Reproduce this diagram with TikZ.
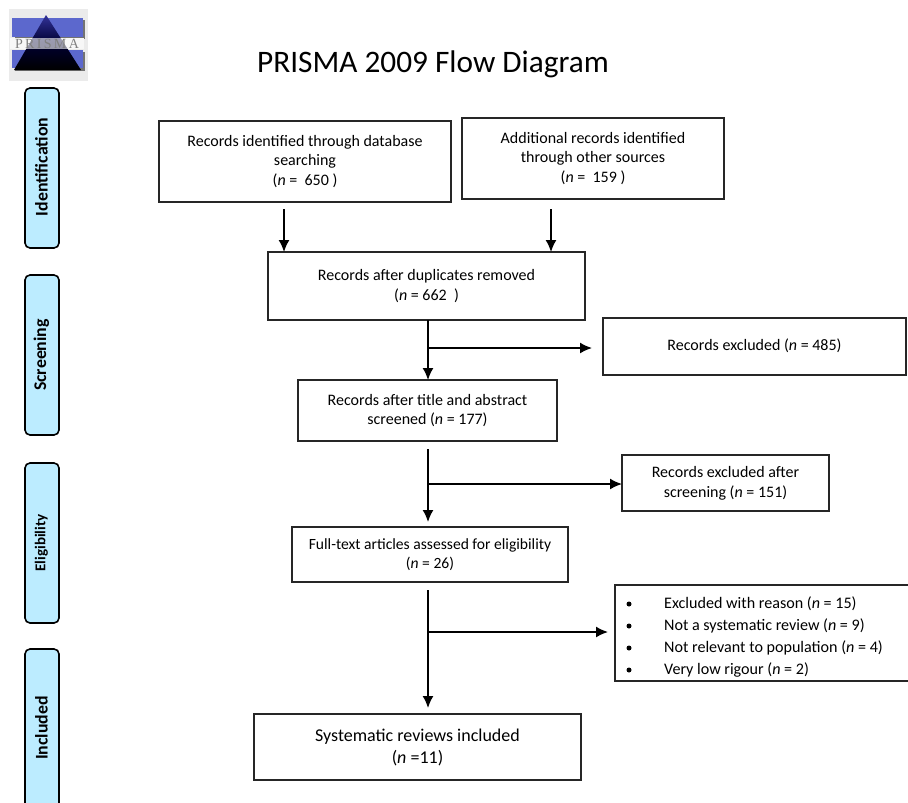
\documentclass[tikz,border=0pt]{standalone}
\usepackage{fontspec}
\setmainfont{Carlito}
\newfontfamily\logofont{Liberation Serif}
\usetikzlibrary{arrows.meta}
\definecolor{logoblue}{RGB}{92,104,205}
\definecolor{sideblue}{RGB}{188,236,255}
\tikzset{
 flowbox/.style={draw=black!85,line width=1.6pt,fill=white,align=center,inner sep=0pt,outer sep=0pt,font=\fontsize{16}{19.8}\selectfont,anchor=north west},
 sidebox/.style={draw=black,line width=1.6pt,fill=sideblue,rounded corners=5pt,minimum width=34pt,inner sep=0pt,outer sep=0pt,anchor=north west},
 sidelabel/.style={rotate=90,font=\bfseries\fontsize{17.8}{20}\selectfont},
 flowarrow/.style={draw=black,line width=1.6pt,-{Latex[length=12pt,width=11pt]}}
}
\newcommand{\nn}{\textit{n}}
\begin{document}
\begin{tikzpicture}[x=1pt,y=-1pt]
\useasboundingbox (0,0) rectangle (908,803);
\clip (0,0) rectangle (908,803);
% logo
\fill[black!8] (9,9) rectangle (88,81);
\fill[black!55] (15,20) rectangle (85,39);
\fill[black!55] (15,52) rectangle (85,71);
\fill[logoblue] (12,18) rectangle (83,37);
\fill[logoblue] (12,50) rectangle (83,68);
\fill[white!92!black] (10,38) rectangle (84,49);
\shade[top color=black!50!blue!80!white,bottom color=black,middle color=black!80!blue] (46,15) -- (81,70) -- (14,70) -- cycle;
\fill[white,opacity=.6] (10,38) rectangle (84,49);
\node[font=\logofont\fontsize{14}{14}\selectfont,text=black!50] (logo) at (47,44) {P\,R\,I\,S\,M\,A};
% title
\node[font=\fontsize{31.3}{34}\selectfont] (title) at (433,64) {PRISMA 2009 Flow Diagram};
% side labels
\node[sidebox,minimum height=160pt] (sid) at (25,88) {};
\node[sidelabel] (lid) at (41.5,167) {Identification};
\node[sidebox,minimum height=160pt] (sis) at (25,275) {};
\node[sidelabel] (lis) at (41.5,355) {Screening};
\node[sidebox,minimum height=160pt] (sie) at (25,463) {};
\node[sidelabel,font=\bfseries\fontsize{15}{17}\selectfont] (lie) at (41.5,543) {Eligibility};
\node[sidebox,minimum height=170pt] (sii) at (25,649) {};
\node[sidelabel] (lii) at (41.5,728) {Included};
% boxes
\node[flowbox,minimum width=292pt,minimum height=81pt] (b1) at (159,121) {Records identified through database\\searching\\(\nn{} =\ \ 650 )};
\node[flowbox,minimum width=262pt,minimum height=81pt] (b2) at (462,118) {Additional records identified\\through other sources\\(\nn{} =\ \ 159 )};
\node[flowbox,minimum width=317pt,minimum height=68pt] (b3) at (268,252) {Records after duplicates removed\\(\nn{} = 662\ \ )};
\node[flowbox,minimum width=303pt,minimum height=57pt] (x1) at (603,318) {\raisebox{4pt}{Records excluded (\nn{} = 485)}};
\node[flowbox,minimum width=259pt,minimum height=61pt] (b4) at (298,380) {Records after title and abstract\\screened (\nn{} = 177)};
\node[flowbox,minimum width=207pt,minimum height=56pt] (x2) at (622,455) {Records excluded after\\screening (\nn{} = 151)};
\node[flowbox,minimum width=276pt,minimum height=55pt,font=\fontsize{15.6}{19}\selectfont] (b5) at (292,527) {Full-text articles assessed for eligibility\\(\nn{} = 26)};
\node[flowbox,minimum width=296pt,minimum height=96pt] (x3) at (615,585) {};
\node[flowbox,minimum width=327pt,minimum height=66pt,font=\fontsize{18}{22}\selectfont] (b6) at (254,714) {Systematic reviews included\\(\nn{} =11)};
% list
\foreach \yy/\tx [count=\i] in {604/{Excluded with reason (\nn{} = 15)},626/{Not a systematic review (\nn{} = 9)},648/{Not relevant to population (\nn{} = 4)},670/{Very low rigour (\nn{} = 2)}}{
 \node[circle,fill=black,inner sep=0pt,minimum size=5pt] (dot\i) at (629,\yy) {};
 \node[anchor=west,inner sep=0pt,font=\fontsize{16.1}{18}\selectfont] (item\i) at (664,\yy) {\tx};
}
% connectors
\coordinate (s1) at (284,209);
\coordinate (s2) at (551,209);
\draw[flowarrow] (s1) -- (s1 |- b3.north);
\draw[flowarrow] (s2) -- (s2 |- b3.north);
\coordinate (s3) at (428,320);
\draw[flowarrow] (s3) -- (s3 |- b4.north);
\coordinate (j3) at (428,348); \coordinate (t3) at (592,348);
\draw[flowarrow] (j3) -- (t3);
\coordinate (s4) at (428,449); \coordinate (e4) at (428,522);
\draw[flowarrow] (s4) -- (e4);
\coordinate (j4) at (428,484);
\draw[flowarrow] (j4) -- (j4 -| x2.west);
\coordinate (s5) at (428,590); \coordinate (e5) at (428,708);
\draw[flowarrow] (s5) -- (e5);
\coordinate (j5) at (428,632); \coordinate (t5) at (608,632);
\draw[flowarrow] (j5) -- (t5);
\end{tikzpicture}
\end{document}
